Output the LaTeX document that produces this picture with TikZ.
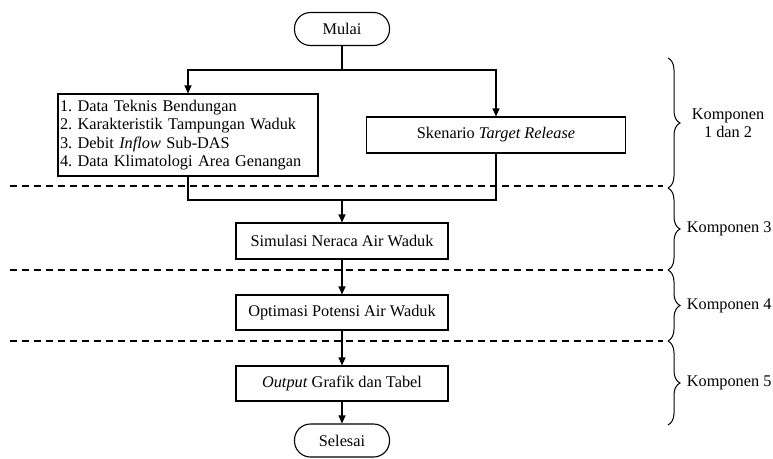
\documentclass[tikz,border=0pt]{standalone}
\usepackage{fontspec}
\setmainfont{Liberation Serif}
\usetikzlibrary{arrows.meta,decorations.pathreplacing}
\frenchspacing

\begin{document}
\begin{tikzpicture}[x=1pt,y=-1pt,
    font=\fontsize{16.3}{18.3}\selectfont,
    box/.style={draw,line width=1.1pt,inner sep=2pt,minimum height=36pt},
    terminal/.style={draw,line width=1.1pt,rounded corners=16pt,minimum width=95pt,minimum height=33pt,inner sep=0pt},
    flow/.style={line width=1.1pt,-{Triangle[width=7pt,length=8pt]}},
    divider/.style={line width=2pt,dash pattern=on 7pt off 5pt},
    bracket/.style={line width=1pt,decorate,decoration={brace,amplitude=12pt}}]
  \useasboundingbox (0,0) rectangle (773,458);

  % nodes
  \draw
    (342,29) node[terminal] (mulai){Mulai}
    (188,135) node[box,text width=256pt,minimum height=82pt,align=left] (data){1. Data Teknis Bendungan\\2. Karakteristik Tampungan Waduk\\3. Debit \textit{Inflow} Sub-DAS\\4. Data Klimatologi Area Genangan}
    (496,135) node[box,minimum width=259pt] (skenario){Skenario \textit{Target Release}}
    (342,241) node[box,minimum width=212pt] (simulasi){Simulasi Neraca Air Waduk}
    (342,312.5) node[box,minimum width=212pt,minimum height=35pt] (optimasi){Optimasi Potensi Air Waduk}
    (342,383.5) node[box,minimum width=212pt,minimum height=35pt] (output){\textit{Output} Grafik dan Tabel}
    (342,440.5) node[terminal] (selesai){Selesai};
  \coordinate (split) at (342,70);
  \coordinate (join) at (342,200);

  % component dividers
  \draw[divider] (10,186) -- (663,186);
  \draw[divider] (10,270) -- (663,270);
  \draw[divider] (10,341) -- (663,341);

  % flow
  \begin{scope}[line width=1.1pt]
    \draw (mulai) -- (split);
    \draw[flow] (split) -| (data);
    \draw[flow] (split) -| (skenario);
    \draw (data.south) |- (join);
    \draw (skenario.south) |- (join);
    \draw[flow] (join) -- (simulasi);
    \draw[flow] (simulasi) -- (optimasi);
    \draw[flow] (optimasi) -- (output);
    \draw[flow] (output) -- (selesai);
  \end{scope}

  % components
  \draw[bracket] (668,58) -- (668,188)
    node[midway,xshift=20pt,anchor=west,align=center] (k12){Komponen\\1 dan 2};
  \draw[bracket] (668,188) -- (668,270)
    node[midway,xshift=15pt,anchor=west] (k3){Komponen 3};
  \draw[bracket] (668,270) -- (668,341)
    node[midway,xshift=15pt,anchor=west] (k4){Komponen 4};
  \draw[bracket] (668,341) -- (668,425)
    node[midway,xshift=15pt,anchor=west] (k5){Komponen 5};
\end{tikzpicture}
\end{document}
